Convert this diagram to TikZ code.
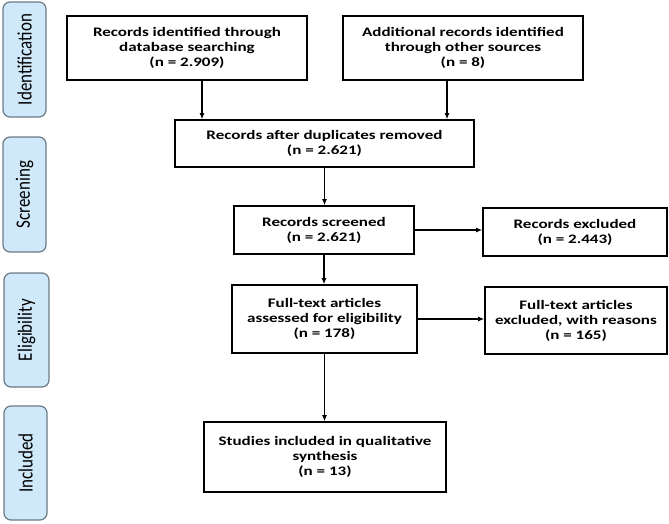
\documentclass[tikz,border=0pt]{standalone}
\usepackage{fontspec}
\setmainfont{Carlito}
\newfontfamily\boxfont[FakeStretch=1.31]{Carlito}
\usepackage{graphicx}
\usepackage{xcolor}
\usepackage{tikz}
\usetikzlibrary{arrows.meta,positioning,calc}

\definecolor{phasefill}{HTML}{CFE9FA}
\definecolor{phaseline}{HTML}{6B7B86}

\newcommand{\phaselabel}[1]{\scalebox{1}[1.2]{#1}}

\begin{document}
\begin{tikzpicture}[x=1pt,y=-1pt,
    box/.style={draw, line width=1.6pt, align=center, font=\boxfont\bfseries\fontsize{13}{15}\selectfont, inner sep=2pt},
    phase/.style={draw=phaseline, line width=1.2pt, fill=phasefill, rounded corners=7pt, minimum width=43pt, minimum height=115pt},
    phasetext/.style={rotate=90, font=\fontsize{17}{20}\selectfont},
    arr/.style={-{Latex[length=6pt,width=5pt]}, line width=1.1pt}]
  \useasboundingbox (0,0) rectangle (669,523);
  % Phase labels
  \node[phase] (idph) at (24.5,59.5) {};
  \node[phasetext] at (idph) {\phaselabel{Identification}};
  \node[phase] (scph) at (24.5,194.5) {};
  \node[phasetext] at (scph) {\phaselabel{Screening}};
  \node[phase, minimum width=45pt, minimum height=114pt] (elph) at (26.5,330) {};
  \node[phasetext] at (elph) {\phaselabel{Eligibility}};
  \node[phase, minimum height=114pt] (inph) at (25.5,463) {};
  \node[phasetext] at (inph) {\phaselabel{Included}};
  % Boxes
  \node[box, minimum width=240pt, minimum height=64pt] (ident) at (187,48)
    {Records identified through\\database searching\\(n = 2.909)};
  \node[box, minimum width=240pt, minimum height=64pt] (other) at (463,48)
    {Additional records identified\\through other sources\\(n = 8)};
  \node[box, minimum width=299pt, minimum height=47pt] (dupl) at (324.5,143.5)
    {Records after duplicates removed\\(n = 2.621)};
  \node[box, minimum width=180pt, minimum height=48pt] (screen) at (324,230)
    {Records screened\\(n = 2.621)};
  \node[box, minimum width=184pt, minimum height=48pt] (excl) at (575,232)
    {Records excluded\\(n = 2.443)};
  \node[box, minimum width=185pt, minimum height=68pt] (fulltext) at (324.5,319)
    {Full-text articles\\assessed for eligibility\\(n = 178)};
  \node[box, minimum width=182pt, minimum height=67pt] (fullexcl) at (576,320.5)
    {Full-text articles\\excluded, with reasons\\(n = 165)};
  \node[box, minimum width=242pt, minimum height=70pt] (incl) at (325,457)
    {Studies included in qualitative\\synthesis\\(n = 13)};
  % Arrows
  \draw[arr] ([xshift=15pt]ident.south) -- ([xshift=15pt]ident.south |- dupl.north);
  \draw[arr] ([xshift=-16pt]other.south) -- ([xshift=-16pt]other.south |- dupl.north);
  \draw[arr] (dupl.south) -- (dupl.south |- screen.north);
  \draw[arr] (screen.east) -- (screen.east -| excl.west);
  \draw[arr] (screen.south) -- (screen.south |- fulltext.north);
  \draw[arr] (fulltext.east) -- (fulltext.east -| fullexcl.west);
  \draw[arr] (fulltext.south) -- (fulltext.south |- incl.north);
\end{tikzpicture}
\end{document}
